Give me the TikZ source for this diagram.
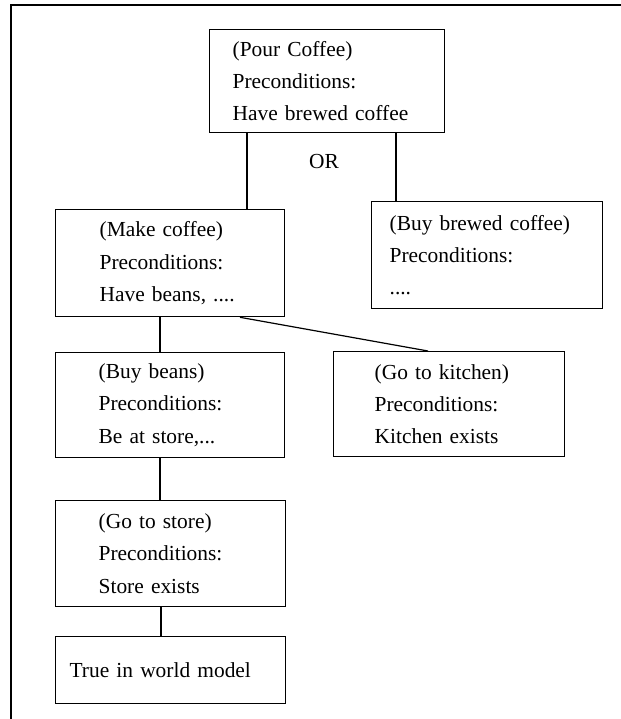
\documentclass[tikz,border=0pt]{standalone}
\usepackage{fontspec}
\setmainfont{Liberation Serif}
\usetikzlibrary{calc}

\begin{document}
\begin{tikzpicture}[x=1bp, y=-1bp,
  every node/.style={font=\fontsize{21.5}{32.5}\selectfont},
  goalbox/.style={draw, line width=1.3bp, anchor=north west, align=left,
    inner ysep=0bp},
  link/.style={line width=1.2bp}]
  % page area and the open frame (top and left sides only)
  \fill[white] (0,0) rectangle (621,719);
  \useasboundingbox (0,0) rectangle (621,719);
  \draw[line width=1.3bp] (621,5) -- (11,5) -- (11,719);

  % goal boxes: text width = box width - 2 * left indent
  \node[goalbox, inner xsep=23bp, text width=189bp, minimum height=103bp] (pour) at (209,29)
    {(Pour Coffee)\\Preconditions:\\Have brewed coffee};
  \node[goalbox, inner xsep=44bp, text width=141bp, minimum height=107bp] (make) at (55,209)
    {(Make coffee)\\Preconditions:\\Have beans, ....};
  \node[goalbox, inner xsep=18bp, text width=195bp, minimum height=107bp] (brewed) at (371,201)
    {(Buy brewed coffee)\\Preconditions:\\....};
  \node[goalbox, inner xsep=43bp, text width=143bp, minimum height=105bp] (beans) at (55,352)
    {(Buy beans)\\Preconditions:\\Be at store,...};
  \node[goalbox, inner xsep=41bp, text width=149bp, minimum height=105bp] (kitchen) at (333,351)
    {(Go to kitchen)\\Preconditions:\\Kitchen exists};
  \node[goalbox, inner xsep=43bp, text width=144bp, minimum height=106bp] (store) at (55,500)
    {(Go to store)\\Preconditions:\\Store exists};
  \node[goalbox, inner xsep=14bp, text width=202bp, minimum height=67bp] (world) at (55,636)
    {True in world model};

  \node (or) at (324,162) {OR};

  % connectors
  \draw[link] ($(pour.south west)+(38,0)$) coordinate (a1) -- (a1 |- make.north);
  \draw[link] ($(pour.south west)+(187,0)$) coordinate (a2) -- (a2 |- brewed.north);
  \draw[link] ($(make.south west)+(105,0)$) coordinate (b1) -- (b1 |- beans.north);
  \draw[link] ($(make.south west)+(185,0)$) -- ($(kitchen.north west)+(95,0)$);
  \draw[link] ($(beans.south west)+(105,0)$) coordinate (c1) -- (c1 |- store.north);
  \draw[link] ($(store.south west)+(106,0)$) coordinate (d1) -- (d1 |- world.north);
\end{tikzpicture}
\end{document}
